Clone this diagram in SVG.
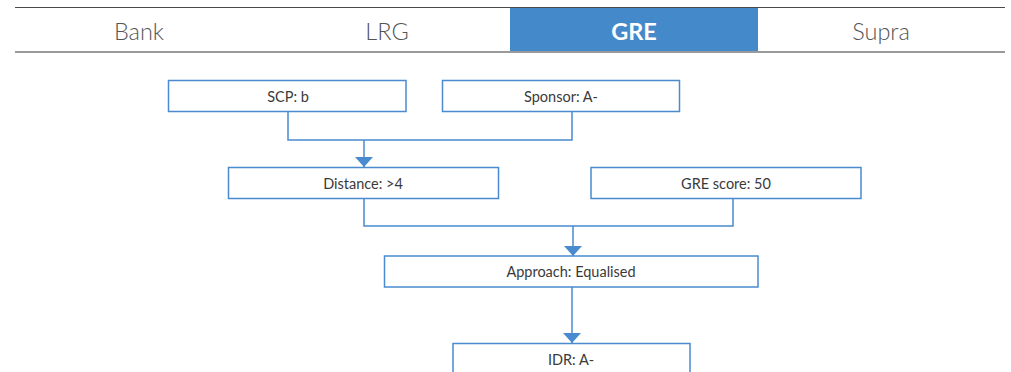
<svg xmlns="http://www.w3.org/2000/svg" width="1011" height="372" viewBox="0 0 1011 372">
<style>
.tab{font-family:Lato,"Liberation Sans",sans-serif;font-size:23.5px;font-weight:300;fill:#555;text-anchor:middle}
.tabon{font-family:Lato,"Liberation Sans",sans-serif;font-size:23.5px;font-weight:700;fill:#fff;text-anchor:middle}
.box{fill:#fff;stroke:#4a8bd0;stroke-width:1.5}
.lbl{font-family:Lato,"Liberation Sans",sans-serif;font-size:14.5px;fill:#3a3a3a;text-anchor:middle}
.con{fill:none;stroke:#4a8bd0;stroke-width:1.5}
</style>
<defs>
<marker id="ad" viewBox="0 0 18 10" refX="9" refY="10" markerWidth="18" markerHeight="10" markerUnits="userSpaceOnUse" orient="0">
<path d="M0,0 L18,0 L9,10 Z" fill="#4a8bd0"/>
</marker>
</defs>
<rect width="1011" height="372" fill="#fff"/>
<g id="tabs">
<rect x="510" y="8" width="248" height="44" fill="#4489ca"/>
<line x1="15" y1="7.5" x2="1005" y2="7.5" stroke="#4a4a4a" stroke-width="1.2"/>
<line x1="15" y1="52" x2="1005" y2="52" stroke="#9a9a9a" stroke-width="2"/>
<text class="tab" x="139" y="40">Bank</text>
<text class="tab" x="387" y="40">LRG</text>
<text class="tabon" x="634" y="40">GRE</text>
<text class="tab" x="881" y="40">Supra</text>
</g>
<g id="connectors">
<polyline class="con" points="288,112 288,140 572,140 572,112"/>
<line class="con" x1="364" y1="140" x2="364" y2="167" marker-end="url(#ad)"/>
<polyline class="con" points="364,198 364,226 733,226 733,198"/>
<line class="con" x1="573" y1="226" x2="573" y2="256" marker-end="url(#ad)"/>
<line class="con" x1="572" y1="287" x2="572" y2="343" marker-end="url(#ad)"/>
</g>
<g id="scp">
<rect class="box" x="168.5" y="80.5" width="237.5" height="31"/>
<text class="lbl" x="288" y="102">SCP: b</text>
</g>
<g id="sponsor">
<rect class="box" x="442.5" y="80.5" width="237" height="31"/>
<text class="lbl" x="561" y="102">Sponsor: A-</text>
</g>
<g id="distance">
<rect class="box" x="228.5" y="167.5" width="270" height="31"/>
<text class="lbl" x="363" y="189">Distance: &gt;4</text>
</g>
<g id="grescore">
<rect class="box" x="591" y="167.5" width="270" height="31"/>
<text class="lbl" x="726" y="189">GRE score: 50</text>
</g>
<g id="approach">
<rect class="box" x="384.5" y="256" width="373.5" height="31"/>
<text class="lbl" x="571" y="277">Approach: Equalised</text>
</g>
<g id="idr">
<rect class="box" x="453" y="343.5" width="237" height="40"/>
<text class="lbl" x="571" y="365">IDR: A-</text>
</g>
</svg>
